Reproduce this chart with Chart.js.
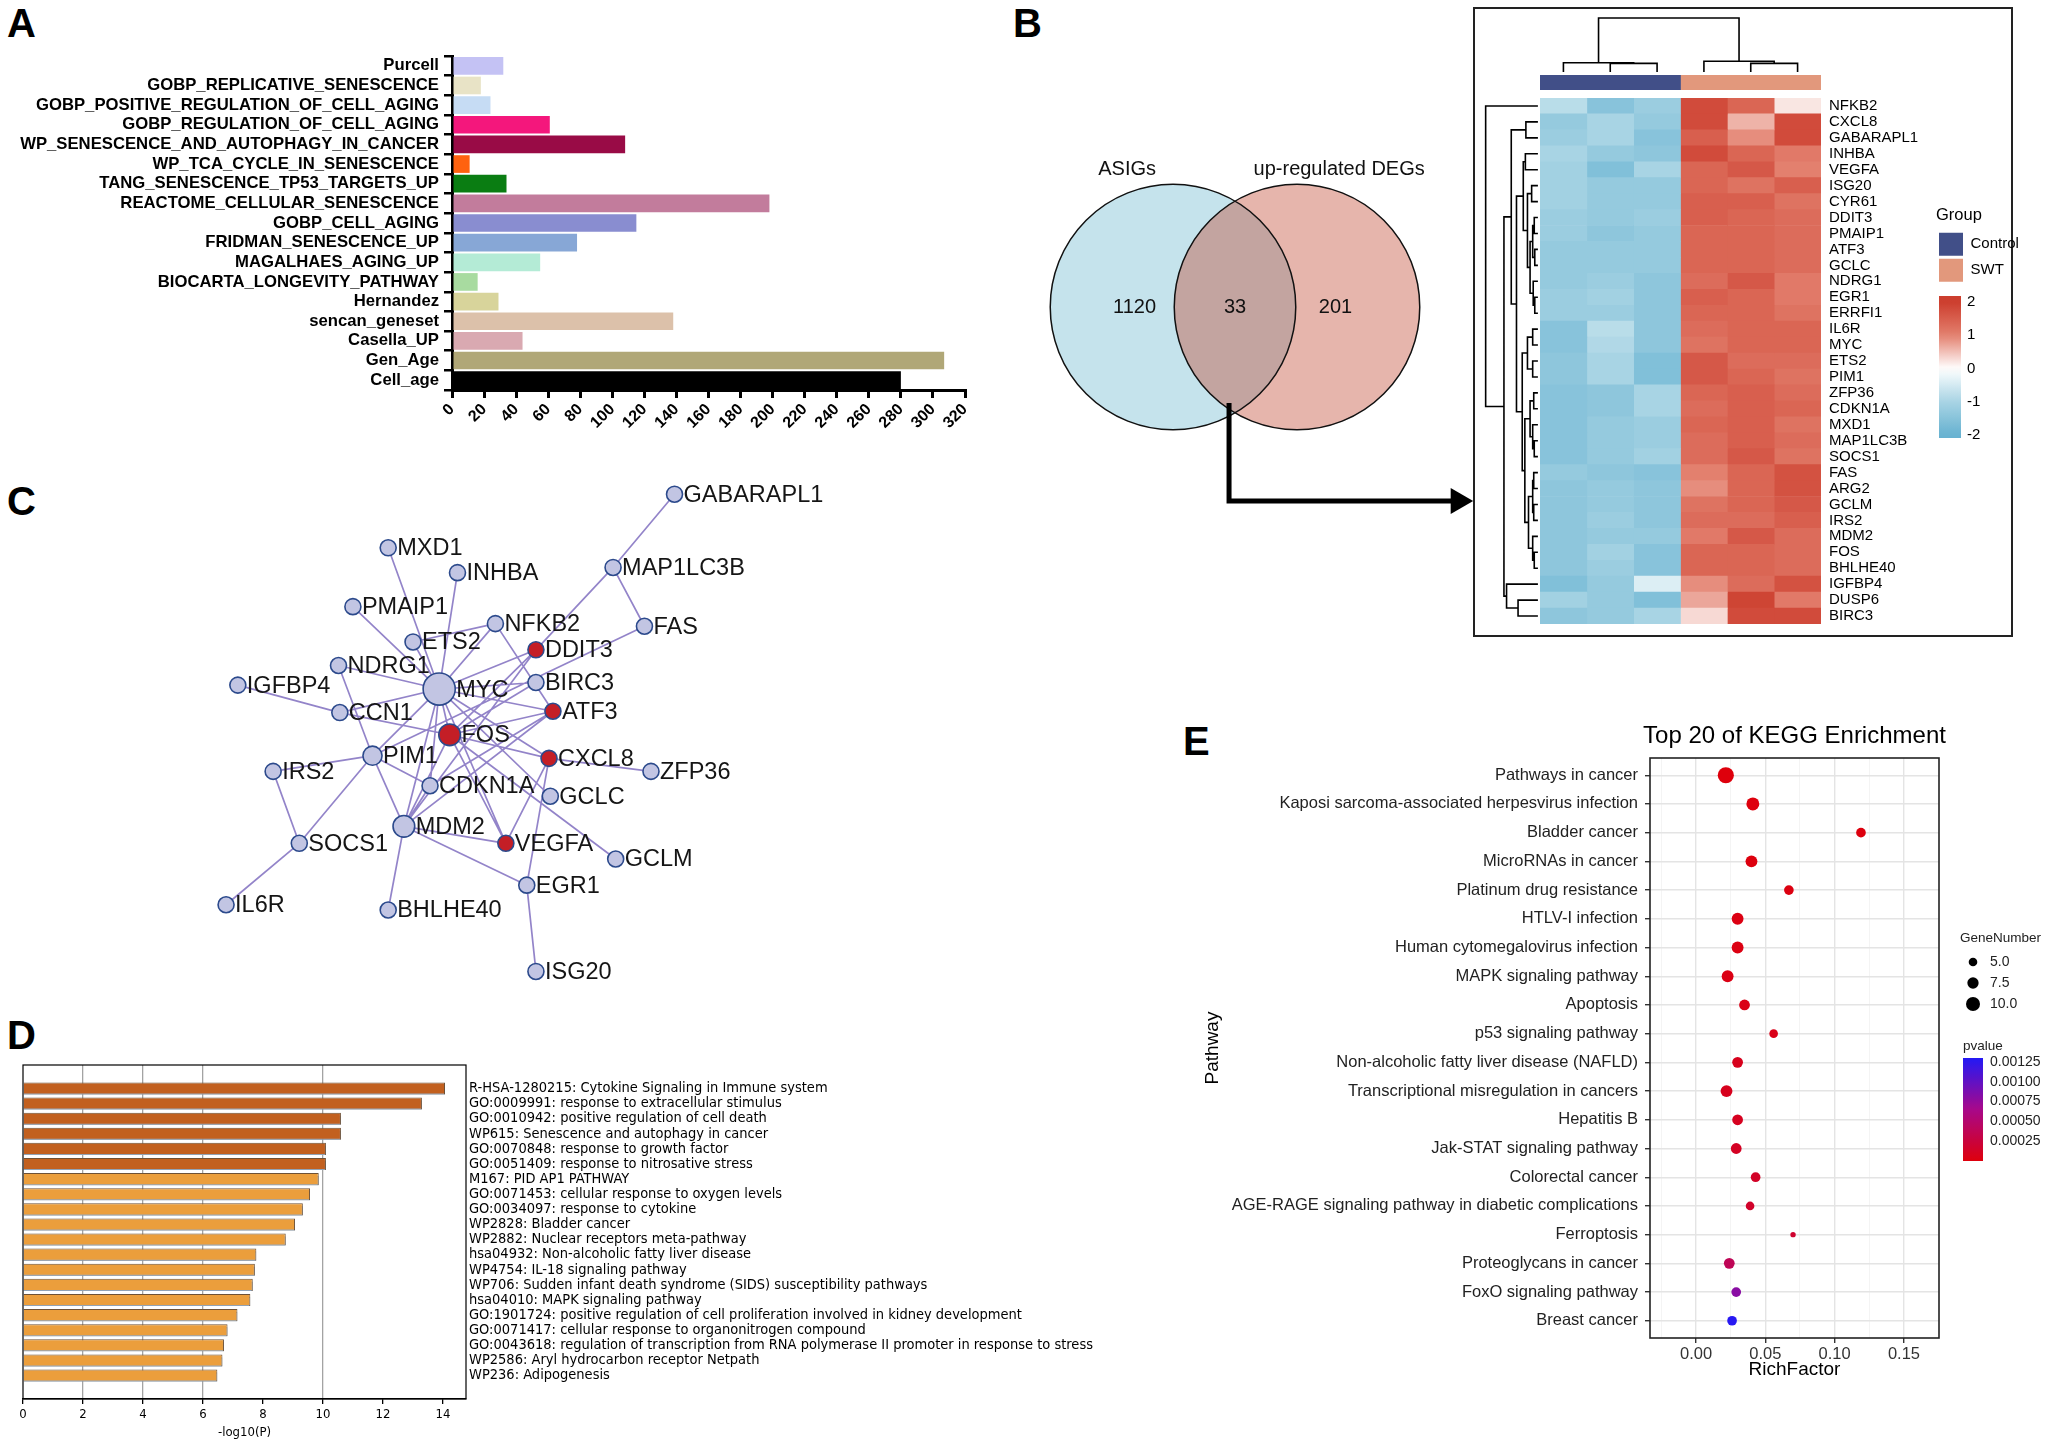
<!DOCTYPE html>
<html>
<head>
<meta charset="utf-8">
<script src="https://cdn.jsdelivr.net/npm/chart.js@4.4.1/dist/chart.umd.min.js"></script>
<style>
body { margin:0; background:#fff; }
#page { position:relative; width:2050px; height:1451px; overflow:hidden; background:#fff; }
canvas { position:absolute; }
.tag { position:absolute; font:bold 40px "Liberation Sans", Arial, sans-serif; line-height:1; color:#000; }
#heatBox { position:absolute; left:1473px; top:7px; width:540px; height:630px; border:2px solid #222; box-sizing:border-box; }
</style>
</head>
<body>
<div id="page">
<div class="tag" style="left:7px;top:3px">A</div>
<div class="tag" style="left:1013px;top:3px">B</div>
<div class="tag" style="left:7px;top:481px">C</div>
<div class="tag" style="left:7px;top:1015px">D</div>
<div class="tag" style="left:1183px;top:721px">E</div>
<div id="heatBox"></div>

<canvas id="cA" width="1000" height="450" style="left:0;top:0"></canvas>
<canvas id="cVenn" width="450" height="380" style="left:1030px;top:140px"></canvas>
<canvas id="cColD" width="281" height="58" style="left:1540px;top:14px"></canvas>
<canvas id="cAnno" width="281" height="15" style="left:1540px;top:75px"></canvas>
<canvas id="cRowD" width="58" height="526" style="left:1482px;top:98px"></canvas>
<canvas id="cHeat" width="400" height="526" style="left:1540px;top:98px"></canvas>
<canvas id="cGrp" width="110" height="90" style="left:1936px;top:200px"></canvas>
<canvas id="cHBar" width="70" height="162" style="left:1939px;top:286px"></canvas>
<canvas id="cNet" width="700" height="530" style="left:196px;top:471px"></canvas>
<canvas id="cD" width="1130" height="401" style="left:0;top:1050px"></canvas>
<canvas id="cE" width="780" height="690" style="left:1180px;top:720px"></canvas>
<canvas id="cGN" width="90" height="90" style="left:1960px;top:928px"></canvas>
<canvas id="cPV" width="89" height="150" style="left:1961px;top:1030px"></canvas>
</div>

<script>
// ---------- data ----------

// A: gene set sizes
let aLabels = ['Purcell', 'GOBP_REPLICATIVE_SENESCENCE', 'GOBP_POSITIVE_REGULATION_OF_CELL_AGING', 'GOBP_REGULATION_OF_CELL_AGING',
  'WP_SENESCENCE_AND_AUTOPHAGY_IN_CANCER', 'WP_TCA_CYCLE_IN_SENESCENCE', 'TANG_SENESCENCE_TP53_TARGETS_UP', 'REACTOME_CELLULAR_SENESCENCE',
  'GOBP_CELL_AGING', 'FRIDMAN_SENESCENCE_UP', 'MAGALHAES_AGING_UP', 'BIOCARTA_LONGEVITY_PATHWAY', 'Hernandez', 'sencan_geneset',
  'Casella_UP', 'Gen_Age', 'Cell_age'];
let aCounts = [32, 18, 24, 61, 108, 11, 34, 198, 115, 78, 55, 16, 29, 138, 44, 307, 280];
let aColors = ['#c4c2f4', '#e8e3c6', '#c6dcf4', '#f4177c', '#990b46', '#ff620f', '#0a7d12', '#c27c9c',
  '#898dd0', '#87a7d6', '#b4ebd6', '#a8dba0', '#d8d49b', '#dcc1aa', '#d9a9b1', '#b0a777', '#000000'];

// B: venn
let vennSets = ['ASIGs', 'up-regulated DEGs'];
let vennOnly = [1120, 201];
let vennShared = 33;

// B: heatmap (z-scores, columns = 3 Control + 3 SWT)
let genes = ['NFKB2', 'CXCL8', 'GABARAPL1', 'INHBA', 'VEGFA', 'ISG20', 'CYR61', 'DDIT3', 'PMAIP1', 'ATF3', 'GCLC', 'NDRG1',
  'EGR1', 'ERRFI1', 'IL6R', 'MYC', 'ETS2', 'PIM1', 'ZFP36', 'CDKN1A', 'MXD1', 'MAP1LC3B', 'SOCS1', 'FAS', 'ARG2', 'GCLM',
  'IRS2', 'MDM2', 'FOS', 'BHLHE40', 'IGFBP4', 'DUSP6', 'BIRC3'];
let samples = ['C1', 'C2', 'C3', 'S1', 'S2', 'S3'];
let heatZ = [
  [-0.8, -1.5, -1.2, 1.8, 1.4, 0.2],
  [-1.3, -1.0, -1.3, 1.8, 0.6, 1.8],
  [-1.2, -1.0, -1.5, 1.5, 0.9, 1.8],
  [-1.0, -1.3, -1.4, 1.8, 1.4, 1.1],
  [-1.1, -1.6, -1.0, 1.4, 1.6, 1.0],
  [-1.1, -1.3, -1.3, 1.4, 1.2, 1.5],
  [-1.1, -1.3, -1.3, 1.5, 1.5, 1.2],
  [-1.2, -1.3, -1.2, 1.5, 1.4, 1.3],
  [-1.2, -1.4, -1.3, 1.4, 1.4, 1.3],
  [-1.3, -1.3, -1.3, 1.4, 1.4, 1.3],
  [-1.3, -1.3, -1.3, 1.4, 1.4, 1.3],
  [-1.3, -1.2, -1.4, 1.3, 1.6, 1.1],
  [-1.2, -1.1, -1.4, 1.5, 1.4, 1.1],
  [-1.2, -1.2, -1.4, 1.4, 1.4, 1.2],
  [-1.5, -0.8, -1.4, 1.3, 1.4, 1.4],
  [-1.5, -0.9, -1.4, 1.2, 1.4, 1.4],
  [-1.4, -1.0, -1.6, 1.6, 1.3, 1.3],
  [-1.4, -1.0, -1.6, 1.6, 1.4, 1.2],
  [-1.5, -1.4, -1.0, 1.4, 1.5, 1.3],
  [-1.5, -1.4, -1.0, 1.3, 1.5, 1.4],
  [-1.5, -1.3, -1.2, 1.4, 1.5, 1.2],
  [-1.5, -1.3, -1.2, 1.3, 1.5, 1.3],
  [-1.5, -1.3, -1.1, 1.3, 1.6, 1.2],
  [-1.3, -1.4, -1.5, 1.0, 1.4, 1.7],
  [-1.4, -1.3, -1.4, 0.9, 1.4, 1.7],
  [-1.4, -1.3, -1.4, 1.2, 1.4, 1.6],
  [-1.4, -1.2, -1.4, 1.3, 1.3, 1.5],
  [-1.4, -1.3, -1.3, 1.1, 1.6, 1.3],
  [-1.4, -1.1, -1.5, 1.4, 1.4, 1.3],
  [-1.4, -1.2, -1.5, 1.4, 1.4, 1.3],
  [-1.6, -1.3, -0.4, 0.9, 1.3, 1.7],
  [-1.1, -1.3, -1.6, 0.7, 1.9, 1.1],
  [-1.4, -1.3, -1.0, 0.3, 1.8, 1.8]
];
// clustering trees: [height, left, right]
let rowTree = [1.0, 'NFKB2',
  [0.65,
    [0.51,
      [0.23, 'CXCL8', 'GABARAPL1'],
      [0.41,
        [0.28, [0.24, 'INHBA', 'VEGFA'],
          [0.2, [0.12, 'ISG20', 'CYR61'],
            [0.15, [0.1, [0.07, 'DDIT3', 'PMAIP1'], [0.06, 'ATF3', 'GCLC']], [0.09, 'NDRG1', [0.06, 'EGR1', 'ERRFI1']]]]],
        [0.3, [0.2, [0.1, 'IL6R', 'MYC'], [0.1, 'ETS2', 'PIM1']],
          [0.25, [0.15, [0.08, 'ZFP36', 'CDKN1A'], [0.1, 'MXD1', [0.07, 'MAP1LC3B', 'SOCS1']]],
            [0.18, [0.1, [0.08, 'FAS', 'ARG2'], [0.08, 'GCLM', 'IRS2']], [0.1, 'MDM2', [0.07, 'FOS', 'BHLHE40']]]]]]],
    [0.6, 'IGFBP4', [0.38, 'DUSP6', 'BIRC3']]]];
let colTree = [1.0, [0.17, 'C1', [0.16, 'C2', 'C3']], [0.2, 'S1', [0.16, 'S2', 'S3']]];
let groups = ['Control', 'SWT'];
let groupSizes = [3, 3];
let groupColors = ['#414f88', '#e2987c'];

// C: network (layout coordinates)
let nodes = [
  ['GABARAPL1', 516, 378], ['MXD1', 297, 419], ['INHBA', 350, 438], ['MAP1LC3B', 469, 434], ['PMAIP1', 270, 464],
  ['NFKB2', 379, 477], ['FAS', 493, 479], ['ETS2', 316, 491], ['DDIT3', 410, 497], ['NDRG1', 259, 509],
  ['BIRC3', 410, 522], ['IGFBP4', 182, 524], ['MYC', 336, 527], ['CCN1', 260, 545], ['ATF3', 423, 544],
  ['FOS', 344, 562], ['PIM1', 285, 578], ['CXCL8', 420, 580], ['ZFP36', 498, 590], ['IRS2', 209, 590],
  ['CDKN1A', 329, 601], ['GCLC', 421, 609], ['MDM2', 309, 632], ['SOCS1', 229, 645], ['VEGFA', 387, 645],
  ['GCLM', 471, 657], ['EGR1', 403, 677], ['IL6R', 173, 692], ['BHLHE40', 297, 696], ['ISG20', 410, 743]
];
let redGenes = ['DDIT3', 'ATF3', 'FOS', 'CXCL8', 'VEGFA'];
let edges = [
  ['GABARAPL1', 'MAP1LC3B'], ['MAP1LC3B', 'FAS'], ['MAP1LC3B', 'DDIT3'], ['FAS', 'PIM1'],
  ['MXD1', 'MYC'], ['INHBA', 'MYC'], ['PMAIP1', 'MYC'], ['ETS2', 'MYC'], ['NFKB2', 'ETS2'], ['NFKB2', 'MYC'],
  ['NFKB2', 'ATF3'], ['NDRG1', 'MYC'], ['NDRG1', 'PIM1'], ['IGFBP4', 'CCN1'], ['CCN1', 'MYC'], ['CCN1', 'FOS'],
  ['MYC', 'DDIT3'], ['MYC', 'BIRC3'], ['MYC', 'ATF3'], ['MYC', 'FOS'], ['MYC', 'PIM1'], ['MYC', 'CXCL8'],
  ['MYC', 'GCLC'], ['MYC', 'MDM2'], ['MYC', 'VEGFA'], ['MYC', 'CDKN1A'], ['FOS', 'ATF3'], ['FOS', 'CXCL8'],
  ['FOS', 'VEGFA'], ['FOS', 'MDM2'], ['FOS', 'GCLM'], ['FOS', 'DDIT3'], ['FOS', 'BIRC3'], ['ATF3', 'CDKN1A'],
  ['ATF3', 'MDM2'], ['DDIT3', 'MDM2'], ['CXCL8', 'ZFP36'], ['CXCL8', 'VEGFA'], ['CXCL8', 'EGR1'],
  ['PIM1', 'IRS2'], ['PIM1', 'SOCS1'], ['PIM1', 'CDKN1A'], ['PIM1', 'MDM2'], ['IRS2', 'SOCS1'], ['SOCS1', 'IL6R'],
  ['MDM2', 'VEGFA'], ['MDM2', 'EGR1'], ['MDM2', 'BHLHE40'], ['MDM2', 'CDKN1A'], ['EGR1', 'ISG20']
];

// D: enrichment terms
let dTerms = ['R-HSA-1280215: Cytokine Signaling in Immune system', 'GO:0009991: response to extracellular stimulus',
  'GO:0010942: positive regulation of cell death', 'WP615: Senescence and autophagy in cancer',
  'GO:0070848: response to growth factor', 'GO:0051409: response to nitrosative stress', 'M167: PID AP1 PATHWAY',
  'GO:0071453: cellular response to oxygen levels', 'GO:0034097: response to cytokine', 'WP2828: Bladder cancer',
  'WP2882: Nuclear receptors meta-pathway', 'hsa04932: Non-alcoholic fatty liver disease', 'WP4754: IL-18 signaling pathway',
  'WP706: Sudden infant death syndrome (SIDS) susceptibility pathways', 'hsa04010: MAPK signaling pathway',
  'GO:1901724: positive regulation of cell proliferation involved in kidney development',
  'GO:0071417: cellular response to organonitrogen compound',
  'GO:0043618: regulation of transcription from RNA polymerase II promoter in response to stress',
  'WP2586: Aryl hydrocarbon receptor Netpath', 'WP236: Adipogenesis'];
let dLogP = [14.07, 13.3, 10.6, 10.6, 10.1, 10.1, 9.86, 9.57, 9.33, 9.07, 8.76, 7.78, 7.73, 7.66, 7.58, 7.15, 6.82, 6.7, 6.65, 6.48];

// E: KEGG
let keggPathways = ['Pathways in cancer', 'Kaposi sarcoma-associated herpesvirus infection', 'Bladder cancer', 'MicroRNAs in cancer',
  'Platinum drug resistance', 'HTLV-I infection', 'Human cytomegalovirus infection', 'MAPK signaling pathway', 'Apoptosis',
  'p53 signaling pathway', 'Non-alcoholic fatty liver disease (NAFLD)', 'Transcriptional misregulation in cancers', 'Hepatitis B',
  'Jak-STAT signaling pathway', 'Colorectal cancer', 'AGE-RAGE signaling pathway in diabetic complications', 'Ferroptosis',
  'Proteoglycans in cancer', 'FoxO signaling pathway', 'Breast cancer'];
let keggRich = [0.0215, 0.041, 0.119, 0.040, 0.067, 0.030, 0.030, 0.0228, 0.035, 0.056, 0.030, 0.022, 0.030, 0.029, 0.043, 0.039, 0.070, 0.024, 0.029, 0.026];
let keggGenes = [12, 9, 6, 8, 6, 8, 8, 8, 7, 5, 7, 8, 7, 7, 6, 5, 2, 7, 6, 6];
let keggP = [0.000002, 0.000005, 0.000008, 0.00001, 0.00002, 0.00003, 0.00003, 0.00004, 0.00005, 0.00006, 0.00008, 0.00009,
  0.0001, 0.00012, 0.00014, 0.00016, 0.00018, 0.00038, 0.0008, 0.00128];
let geneLegend = [5.0, 7.5, 10.0];
let pTicks = [0.00025, 0.0005, 0.00075, 0.001, 0.00125];

// ---------- helpers ----------
Chart.defaults.font.family = '"Liberation Sans", Arial, sans-serif';
Chart.defaults.color = '#000';
Chart.defaults.animation = false;
Chart.defaults.responsive = false;
Chart.defaults.events = [];
Chart.defaults.layout.autoPadding = false;
Chart.defaults.plugins.legend.display = false;
Chart.defaults.plugins.tooltip.enabled = false;

let cond = '"DejaVu Sans Condensed", "Liberation Sans Narrow", sans-serif';

function noPad(s) { s.paddingTop = 0; s.paddingBottom = 0; s.paddingLeft = 0; s.paddingRight = 0; }
let fitW = w => s => { s.width = w; noPad(s); };
let fitH = h => s => { s.height = h; noPad(s); };
let ticksAt = vals => s => { s.ticks = vals.map(v => ({value: v})); };

function frame(color, lw) {
  return {
    id: 'frame',
    afterDatasetsDraw(chart) {
      let a = chart.chartArea, c = chart.ctx;
      c.save();
      c.strokeStyle = color;
      c.lineWidth = lw;
      c.strokeRect(a.left, a.top, a.right - a.left, a.bottom - a.top);
      c.restore();
    }
  };
}

// soft strip under each bar (Metascape style)
let barShadow = {
  id: 'barShadow',
  beforeDatasetDraw(chart) {
    let c = chart.ctx;
    c.save();
    c.shadowColor = 'rgba(150,172,196,0.9)';
    c.shadowOffsetY = 3;
    c.shadowBlur = 0;
  },
  afterDatasetDraw(chart) { chart.ctx.restore(); }
};

function mix(stops, t) {
  t = Math.max(0, Math.min(1, t));
  for (let i = 1; i < stops.length; i++) {
    if (t <= stops[i][0]) {
      let [t0, c0] = stops[i - 1], [t1, c1] = stops[i];
      let f = (t - t0) / (t1 - t0);
      return 'rgb(' + c0.map((v, k) => Math.round(v + (c1[k] - v) * f)).join(',') + ')';
    }
  }
  return 'rgb(' + stops[stops.length - 1][1].join(',') + ')';
}
let redStops = [[0, [255, 255, 255]], [0.5, [227, 128, 110]], [1, [204, 62, 46]]];
let blueStops = [[0, [255, 255, 255]], [0.5, [168, 212, 228]], [1, [103, 178, 209]]];
function heatColor(v) {
  return v >= 0 ? mix(redStops, v / 2) : mix(blueStops, -v / 2);
}
let pStops = [[0, [222, 0, 12]], [0.5, [168, 8, 138]], [1, [35, 25, 245]]];
let pMax = 0.0013;
function pColor(p) { return mix(pStops, p / pMax); }
function geneR(g) { return 1.6 + 0.54 * g; }

// dendrogram -> line segments (pos = leaf slot, h = height)
function dendro(tree, leaves) {
  let pts = [];
  function walk(n) {
    if (typeof n === 'string') return {p: leaves.indexOf(n) + 0.5, h: 0};
    let a = walk(n[1]), b = walk(n[2]);
    pts.push({p: a.p, h: a.h}, {p: a.p, h: n[0]}, {p: b.p, h: n[0]}, {p: b.p, h: b.h}, null);
    return {p: (a.p + b.p) / 2, h: n[0]};
  }
  walk(tree);
  return pts;
}

// ---------- A ----------
new Chart(document.getElementById('cA'), {
  type: 'bar',
  data: {
    labels: aLabels,
    datasets: [{data: aCounts, backgroundColor: aColors, barPercentage: 0.9, categoryPercentage: 1}]
  },
  options: {
    indexAxis: 'y',
    layout: {padding: {top: 56, right: 35}},
    scales: {
      x: {
        min: 0, max: 320,
        ticks: {stepSize: 20, minRotation: 45, maxRotation: 45, autoSkip: false, padding: 2,
          font: {size: 16, weight: 'bold'}, color: '#000'},
        grid: {drawOnChartArea: false, color: '#000', lineWidth: 3, tickLength: 8},
        border: {color: '#000', width: 3},
        afterFit: fitH(60)
      },
      y: {
        ticks: {autoSkip: false, padding: 5, font: {size: 16.7, weight: 'bold'}, color: '#000'},
        grid: {drawOnChartArea: false, color: '#000', lineWidth: 2.5, tickLength: 8},
        border: {color: '#000', width: 3},
        afterFit: fitW(452)
      }
    }
  }
});

// ---------- B: venn ----------
let vennR = 0.99;
let circleR = ctx => {
  let s = ctx.chart.scales.x;
  return Math.abs(s.getPixelForValue(vennR) - s.getPixelForValue(0));
};
let arrowPath = [{x: -0.048, y: -0.774}, {x: -0.048, y: -1.565}, {x: 1.80, y: -1.565}];
let vennText = {
  id: 'vennText',
  afterDatasetsDraw(chart) {
    let c = chart.ctx, sx = chart.scales.x, sy = chart.scales.y;
    c.save();
    c.fillStyle = '#111';
    c.font = '20px "Liberation Sans", Arial, sans-serif';
    c.textAlign = 'center';
    c.textBaseline = 'middle';
    c.fillText(vennSets[0], sx.getPixelForValue(-0.87), sy.getPixelForValue(1.11));
    c.fillText(vennSets[1], sx.getPixelForValue(0.84), sy.getPixelForValue(1.11));
    c.fillText(String(vennOnly[0]), sx.getPixelForValue(-0.81), sy.getPixelForValue(0));
    c.fillText(String(vennShared), sx.getPixelForValue(0), sy.getPixelForValue(0));
    c.fillText(String(vennOnly[1]), sx.getPixelForValue(0.81), sy.getPixelForValue(0));
    c.restore();
  }
};
new Chart(document.getElementById('cVenn'), {
  type: 'scatter',
  data: {
    datasets: [
      {data: [{x: -0.5, y: 0}], pointRadius: circleR, pointBackgroundColor: '#c5e3ec', pointBorderWidth: 0, order: 5},
      {data: [{x: 0.5, y: 0}], pointRadius: circleR, pointBackgroundColor: 'rgba(192,70,47,0.4)', pointBorderWidth: 0, order: 4},
      {data: [{x: -0.5, y: 0}, {x: 0.5, y: 0}], pointRadius: circleR, pointBackgroundColor: 'rgba(0,0,0,0)',
        pointBorderColor: '#111', pointBorderWidth: 1.5, order: 3},
      {data: arrowPath, showLine: true, borderColor: '#000', borderWidth: 5, pointRadius: 0, order: 2},
      {data: [arrowPath[2]], pointStyle: 'triangle', pointRotation: 90, pointRadius: 15,
        pointBackgroundColor: '#000', pointBorderWidth: 0, order: 1}
    ]
  },
  options: {
    scales: {
      x: {display: false, min: -1.6532, max: 1.9758},
      y: {display: false, min: -1.7177, max: 1.3468}
    }
  },
  plugins: [vennText]
});

// ---------- B: heatmap ----------
new Chart(document.getElementById('cHeat'), {
  type: 'bar',
  data: {
    labels: genes,
    datasets: samples.map((s, c) => ({
      label: s,
      data: genes.map(() => 1),
      backgroundColor: heatZ.map(row => heatColor(row[c])),
      barPercentage: 1, categoryPercentage: 1, borderWidth: 0
    }))
  },
  options: {
    indexAxis: 'y',
    scales: {
      x: {display: false, stacked: true, min: 0, max: samples.length},
      y: {
        stacked: true, position: 'right',
        grid: {display: false, drawTicks: false}, border: {display: false},
        ticks: {autoSkip: false, padding: 8, font: {size: 15}, color: '#000'},
        afterFit: fitW(119)
      }
    }
  }
});

let colPts = dendro(colTree, samples).map(p => p ? {x: p.p, y: p.h} : {x: null, y: null});
new Chart(document.getElementById('cColD'), {
  type: 'scatter',
  data: {datasets: [{data: colPts, showLine: true, borderColor: '#000', borderWidth: 1.6, pointRadius: 0, clip: false}]},
  options: {scales: {x: {display: false, min: 0, max: samples.length}, y: {display: false, min: 0, max: 1.074}}}
});

new Chart(document.getElementById('cAnno'), {
  type: 'bar',
  data: {
    labels: [''],
    datasets: groups.map((g, i) => ({label: g, data: [groupSizes[i]], backgroundColor: groupColors[i],
      barPercentage: 1, categoryPercentage: 1}))
  },
  options: {
    indexAxis: 'y',
    scales: {x: {display: false, stacked: true, min: 0, max: samples.length}, y: {display: false, stacked: true}}
  }
});

let rowPts = dendro(rowTree, genes).map(p => p ? {x: p.h, y: p.p} : {x: null, y: null});
new Chart(document.getElementById('cRowD'), {
  type: 'scatter',
  data: {datasets: [{data: rowPts, showLine: true, borderColor: '#000', borderWidth: 1.6, pointRadius: 0, clip: false}]},
  options: {scales: {
    x: {display: false, min: -0.04, max: 1.07, reverse: true},
    y: {display: false, min: 0, max: genes.length, reverse: true}
  }}
});

new Chart(document.getElementById('cGrp'), {
  type: 'bar',
  data: {labels: [], datasets: groups.map((g, i) => ({label: g, data: [], backgroundColor: groupColors[i]}))},
  options: {
    scales: {x: {display: false}, y: {display: false}},
    plugins: {legend: {
      display: true, position: 'left', align: 'start', maxWidth: 200,
      labels: {boxWidth: 24, boxHeight: 23, padding: 3, font: {size: 15}, color: '#000'},
      title: {display: true, text: 'Group', position: 'start', font: {size: 16.5}, color: '#000', padding: {top: 7, bottom: 3}}
    }}
  }
});

let heatMin = -2.09, heatMax = 2.18;
new Chart(document.getElementById('cHBar'), {
  type: 'bar',
  data: {
    labels: [''],
    datasets: [{
      data: [[heatMin, heatMax]], barPercentage: 1, categoryPercentage: 1,
      backgroundColor: ctx => {
        let a = ctx.chart.chartArea;
        if (!a) return '#fff';
        let g = ctx.chart.ctx.createLinearGradient(0, a.bottom, 0, a.top);
        for (let i = 0; i <= 20; i++) {
          let v = heatMin + (heatMax - heatMin) * i / 20;
          g.addColorStop(i / 20, heatColor(v));
        }
        return g;
      }
    }]
  },
  options: {
    layout: {padding: {top: 10, bottom: 10}},
    scales: {
      x: {display: false},
      y: {
        position: 'right', min: heatMin, max: heatMax, z: 1,
        afterBuildTicks: ticksAt([-2, -1, 0, 1, 2]),
        ticks: {padding: 6, font: {size: 15}, color: '#000'},
        grid: {color: '#fff', lineWidth: 1.6, drawTicks: false},
        border: {display: false, dash: [8, 6]},
        afterFit: fitW(48)
      }
    }
  }
});

// ---------- C: network ----------
let nodeIdx = {};
nodes.forEach((n, i) => { nodeIdx[n[0]] = i; });
let degree = nodes.map(n => edges.filter(e => e[0] === n[0] || e[1] === n[0]).length);
let nodeR = degree.map(d => d >= 7 ? 5 + 0.65 * d : 8);
let edgePts = [];
edges.forEach(e => {
  let a = nodes[nodeIdx[e[0]]], b = nodes[nodeIdx[e[1]]];
  edgePts.push({x: a[1], y: a[2]}, {x: b[1], y: b[2]}, {x: null, y: null});
});
let netText = {
  id: 'netText',
  afterDatasetsDraw(chart) {
    let c = chart.ctx, meta = chart.getDatasetMeta(1);
    c.save();
    c.fillStyle = '#151515';
    c.font = '23.5px "Liberation Sans", Arial, sans-serif';
    c.textAlign = 'left';
    c.textBaseline = 'middle';
    meta.data.forEach((pt, i) => {
      c.fillText(nodes[i][0], pt.x + nodeR[i] + 1, pt.y + 1);
    });
    c.restore();
  }
};
new Chart(document.getElementById('cNet'), {
  type: 'scatter',
  data: {
    datasets: [
      {data: edgePts, showLine: true, borderColor: 'rgba(128,110,192,0.85)', borderWidth: 1.7, pointRadius: 0, order: 2},
      {data: nodes.map(n => ({x: n[1], y: n[2]})), pointRadius: nodeR,
        pointBackgroundColor: nodes.map(n => redGenes.includes(n[0]) ? '#c41e26' : '#c2c5e3'),
        pointBorderColor: '#2c4a8c', pointBorderWidth: 1.6, order: 1}
    ]
  },
  options: {
    scales: {
      x: {display: false, min: 150, max: 685.4},
      y: {display: false, min: 360.25, max: 765.6, reverse: true}
    }
  },
  plugins: [netText]
});

// ---------- D ----------
let dIdx = dTerms.map((t, i) => i);
new Chart(document.getElementById('cD'), {
  type: 'bar',
  data: {
    datasets: [{
      data: dLogP.map((v, i) => ({x: v, y: i})),
      backgroundColor: dLogP.map(v => v >= 10 ? '#c2601f' : '#eb9e3c'),
      borderColor: '#6e5136', borderWidth: 1,
      barPercentage: 0.8, categoryPercentage: 1
    }]
  },
  options: {
    indexAxis: 'y',
    layout: {padding: {left: 23, top: 15}},
    scales: {
      x: {
        min: 0, max: 14.77,
        afterBuildTicks: ticksAt([0, 2, 4, 6, 8, 10, 12, 14]),
        ticks: {padding: 3, font: {family: cond, size: 13}, color: '#000'},
        grid: {
          color: ctx => ctx.tick && [2, 4, 6, 10].includes(ctx.tick.value) ? '#a3a3a3' : 'rgba(0,0,0,0)',
          lineWidth: 1.3, tickColor: '#000', tickLength: 5
        },
        border: {display: true, color: '#000', width: 1.2},
        title: {display: true, text: '-log10(P)', font: {family: cond, size: 13}, color: '#000', padding: {top: 0, bottom: 11}},
        afterFit: fitH(52)
      },
      y: {
        type: 'linear', position: 'right', min: -1, max: 20, reverse: true,
        afterBuildTicks: ticksAt(dIdx),
        ticks: {autoSkip: false, padding: 3, font: {family: cond, size: 14.5}, color: '#000', callback: v => dTerms[v]},
        grid: {display: false, drawTicks: false}, border: {display: false},
        afterFit: fitW(664)
      }
    }
  },
  plugins: [barShadow, frame('#000', 1.2)]
});

// ---------- E ----------
let eIdx = keggPathways.map((p, i) => i);
let isMajor = v => v >= -1e-9 && Math.abs(v * 20 - Math.round(v * 20)) < 1e-6;
let eTitle = {
  id: 'eTitle',
  afterDraw(chart) {
    let c = chart.ctx, a = chart.chartArea;
    c.save();
    c.fillStyle = '#000';
    c.font = '24px "Liberation Sans", Arial, sans-serif';
    c.textAlign = 'center';
    c.textBaseline = 'middle';
    c.fillText('Top 20 of KEGG Enrichment', (a.left + a.right) / 2, 16);
    c.restore();
  }
};
new Chart(document.getElementById('cE'), {
  type: 'bubble',
  data: {
    datasets: [{
      data: keggRich.map((x, i) => ({x: x, y: i, r: geneR(keggGenes[i])})),
      backgroundColor: keggP.map(pColor), borderWidth: 0
    }]
  },
  options: {
    layout: {padding: {top: 38, right: 21}},
    scales: {
      x: {
        min: -0.0332, max: 0.1753,
        afterBuildTicks: ticksAt([-0.025, 0, 0.025, 0.05, 0.075, 0.1, 0.125, 0.15]),
        ticks: {padding: 2, font: {size: 16.5}, color: '#333', callback: v => isMajor(v) ? v.toFixed(2) : ''},
        grid: {
          color: ctx => ctx.tick && isMajor(ctx.tick.value) ? '#e4e4e4' : '#f1f1f1',
          lineWidth: ctx => ctx.tick && isMajor(ctx.tick.value) ? 1.4 : 0.8,
          tickColor: ctx => ctx.tick && isMajor(ctx.tick.value) ? '#333' : 'rgba(0,0,0,0)',
          tickLength: 5
        },
        border: {display: false},
        title: {display: true, text: 'RichFactor', font: {size: 19}, color: '#000', padding: {top: 0, bottom: 28.6}},
        afterFit: fitH(72)
      },
      y: {
        type: 'linear', min: -0.6, max: 19.6, reverse: true,
        afterBuildTicks: ticksAt(eIdx),
        ticks: {autoSkip: false, padding: 7, font: {size: 16.5}, color: '#222', callback: v => keggPathways[v]},
        grid: {color: '#e4e4e4', lineWidth: 1.4, tickColor: '#333', tickLength: 5},
        border: {display: false},
        title: {display: true, text: 'Pathway', font: {size: 19}, color: '#000', padding: {top: 21.6, bottom: 0}},
        afterFit: fitW(470)
      }
    }
  },
  plugins: [frame('#222', 1.6), eTitle]
});

// E legends
new Chart(document.getElementById('cGN'), {
  type: 'scatter',
  data: {datasets: [{
    data: geneLegend.map((g, i) => ({x: 0, y: i})),
    pointRadius: geneLegend.map(geneR), pointBackgroundColor: '#000', pointBorderWidth: 0
  }]},
  options: {
    scales: {
      x: {display: false, min: -1, max: 1},
      y: {
        position: 'right', min: -0.67, max: 2.67, reverse: true,
        afterBuildTicks: ticksAt([0, 1, 2]),
        ticks: {padding: 4, font: {size: 14}, color: '#222', callback: v => geneLegend[v].toFixed(1)},
        grid: {display: false, drawTicks: false}, border: {display: false},
        afterFit: fitW(64)
      }
    },
    plugins: {title: {display: true, text: 'GeneNumber', align: 'start', font: {size: 13.5, weight: 'normal'},
      color: '#222', padding: {top: 2, bottom: 1.8}}}
  }
});

new Chart(document.getElementById('cPV'), {
  type: 'bar',
  data: {
    labels: [''],
    datasets: [{
      data: [[0, pMax]], barPercentage: 1, categoryPercentage: 1,
      backgroundColor: ctx => {
        let a = ctx.chart.chartArea;
        if (!a) return '#fff';
        let g = ctx.chart.ctx.createLinearGradient(0, a.bottom, 0, a.top);
        for (let i = 0; i <= 20; i++) g.addColorStop(i / 20, pColor(pMax * i / 20));
        return g;
      }
    }]
  },
  options: {
    layout: {padding: {left: 2, bottom: 19}},
    scales: {
      x: {display: false},
      y: {
        position: 'right', min: 0, max: pMax, z: 1,
        afterBuildTicks: ticksAt(pTicks),
        ticks: {padding: 7, font: {size: 14}, color: '#222', callback: v => v.toFixed(5)},
        grid: {color: '#fff', lineWidth: 1.2, drawTicks: false},
        border: {display: false, dash: [5, 10]},
        afterFit: fitW(67)
      }
    },
    plugins: {title: {display: true, text: 'pvalue', align: 'start', font: {size: 13.5, weight: 'normal'},
      color: '#222', padding: {top: 7.9, bottom: 3.9}}}
  }
});
</script>
</body>
</html>
